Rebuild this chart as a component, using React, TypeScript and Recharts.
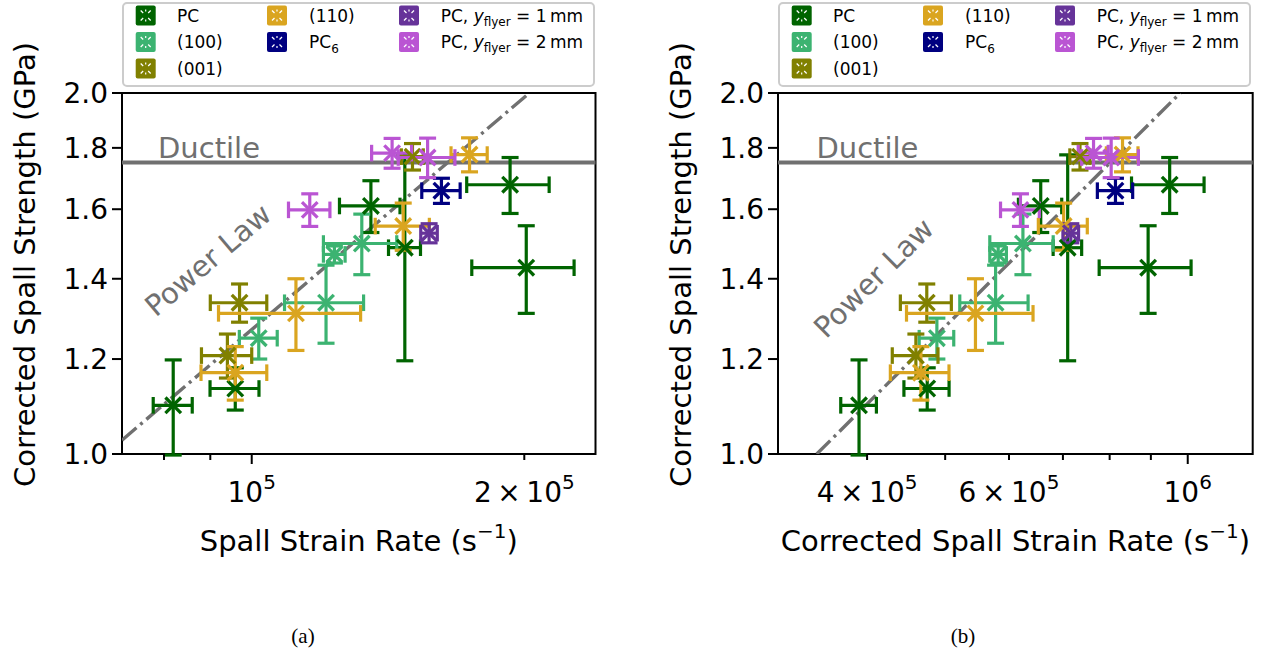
import React from 'react';
import { ScatterChart, Scatter, XAxis, YAxis, ErrorBar, ReferenceLine, ReferenceArea, ReferenceDot } from 'recharts';

const FONT = "'DejaVu Sans', sans-serif";
const GRAY = '#707070';

// ---------- series meta ----------
const seriesNames = ['PC', '(100)', '(001)', '(110)', 'PC_6', 'PC, y_flyer = 1\u2009mm', 'PC, y_flyer = 2\u2009mm'];
const seriesColors = ['#006400', '#3cb371', '#808000', '#daa520', '#000080', '#663399', '#ba55d3'];

// ---------- PC ----------
const pcStrength = [1.098, 1.134, 1.61, 1.486, 1.677, 1.43];
const pcStrengthErr = [0.1, 0.046, 0.08, 0.29, 0.09, 0.12];
const pcRate = [81900, 95900, 135400, 147600, 192900, 201000];
const pcRateErr = [4060, 5960, 10400, 6000, 20150, 26000];
const pcCorrRate = [390900, 475000, 657000, 709600, 949700, 893000];
const pcCorrRateErr = [19900, 30600, 40600, 28900, 98100, 116600];

// ---------- (100) ----------
const s100Strength = [1.249, 1.337, 1.467, 1.498];
const s100StrengthErr = [0.049, 0.1, 0.024, 0.087];
const s100Rate = [101800, 120800, 123400, 132300];
const s100RateErr = [4900, 12100, 3400, 12300];
const s100CorrRate = [488300, 577500, 581800, 624400];
const s100CorrRateErr = [24100, 56200, 13800, 56400];

// ---------- (001) ----------
const s001Strength = [1.337, 1.208, 1.77];
const s001StrengthErr = [0.049, 0.051, 0.045];
const s001Rate = [96950, 94000, 150500];
const s001RateErr = [6950, 6000, 4200];
const s001CorrRate = [474400, 459850, 735000];
const s001CorrRateErr = [34500, 30000, 21000];

// ---------- (110) ----------
const s110Strength = [1.169, 1.31, 1.549, 1.777];
const s110StrengthErr = [0.06, 0.09, 0.07, 0.058];
const s110Rate = [95900, 111900, 147000, 174000];
const s110RateErr = [8000, 20000, 10100, 8000];
const s110CorrRate = [466500, 545200, 701500, 830000];
const s110CorrRateErr = [39000, 97500, 49000, 37500];

// ---------- PC6 ----------
const pc6Strength = [1.658];
const pc6StrengthErr = [0.04];
const pc6Rate = [162000];
const pc6RateErr = [7900];
const pc6CorrRate = [813400];
const pc6CorrRateErr = [41000];

// ---------- PC, y_flyer = 1 mm ----------
const fly1Strength = [1.528];
const fly1StrengthErr = [0.028];
const fly1Rate = [157000];
const fly1RateErr = [3300];
const fly1CorrRate = [716000];
const fly1CorrRateErr = [16000];

// ---------- PC, y_flyer = 2 mm ----------
const fly2Strength = [1.598, 1.782, 1.767];
const fly2StrengthErr = [0.05, 0.051, 0.067];
const fly2Rate = [115900, 142900, 156400];
const fly2RateErr = [6100, 7250, 11250];
const fly2CorrRate = [620000, 764000, 803500];
const fly2CorrRateErr = [34300, 32700, 65000];

// ---------- reference lines ----------
const ductileStrength = 1.75;
const powerLawA = [{ x: 71900, y: 1.027 }, { x: 202600, y: 2.0 }];
const powerLawB = [{ x: 346400, y: 1.0 }, { x: 979000, y: 2.0 }];

// ---------- axes ----------
const yDomain = [1.0, 2.0];
const yTicks = [1.0, 1.2, 1.4, 1.6, 1.8, 2.0];
const yTickLabels = ['1.0', '1.2', '1.4', '1.6', '1.8', '2.0'];

const xDomainA = [71900, 239700];
const xTicksA = [80000, 90000, 100000, 200000];
const xTickLabelsA = [null, null, ['10', '5'], ['2\u2009\u00d7\u200910', '5']];
const xMajorA = [100000];

const xDomainB = [310100, 1204000];
const xTicksB = [400000, 500000, 600000, 700000, 800000, 900000, 1000000];
const xTickLabelsB = [['4\u2009\u00d7\u200910', '5'], null, ['6\u2009\u00d7\u200910', '5'], null, null, null, ['10', '6']];
const xMajorB = [1000000];

const build = (xs: number[], xe: number[], ys: number[], ye: number[]) =>
  ys.map((y, i) => ({ x: xs[i], y, ex: xe[i], ey: ye[i] }));

const SERIES = [
  { a: build(pcRate, pcRateErr, pcStrength, pcStrengthErr), b: build(pcCorrRate, pcCorrRateErr, pcStrength, pcStrengthErr) },
  { a: build(s100Rate, s100RateErr, s100Strength, s100StrengthErr), b: build(s100CorrRate, s100CorrRateErr, s100Strength, s100StrengthErr) },
  { a: build(s001Rate, s001RateErr, s001Strength, s001StrengthErr), b: build(s001CorrRate, s001CorrRateErr, s001Strength, s001StrengthErr) },
  { a: build(s110Rate, s110RateErr, s110Strength, s110StrengthErr), b: build(s110CorrRate, s110CorrRateErr, s110Strength, s110StrengthErr) },
  { a: build(pc6Rate, pc6RateErr, pc6Strength, pc6StrengthErr), b: build(pc6CorrRate, pc6CorrRateErr, pc6Strength, pc6StrengthErr) },
  { a: build(fly1Rate, fly1RateErr, fly1Strength, fly1StrengthErr), b: build(fly1CorrRate, fly1CorrRateErr, fly1Strength, fly1StrengthErr) },
  { a: build(fly2Rate, fly2RateErr, fly2Strength, fly2StrengthErr), b: build(fly2CorrRate, fly2CorrRateErr, fly2Strength, fly2StrengthErr) },
].map((s, i) => ({ ...s, name: seriesNames[i], color: seriesColors[i] }));

const PANELS = {
  a: {
    left: 0,
    rightMargin: 24.5,
    xDomain: xDomainA,
    xTicks: xTicksA,
    xTickLabels: xTickLabelsA,
    xMajor: xMajorA,
    xLabel: 'Spall Strain Rate (s',
    powerLaw: powerLawA,
    ductileText: { x: 78800, y: 1.766 },
    powerText: { x: 89500, y: 1.451, angle: -40.4 },
    caption: '(a)',
  },
  b: {
    left: 656,
    rightMargin: 23.3,
    xDomain: xDomainB,
    xTicks: xTicksB,
    xTickLabels: xTickLabelsB,
    xMajor: xMajorB,
    xLabel: 'Corrected Spall Strain Rate (s',
    powerLaw: powerLawB,
    ductileText: { x: 346100, y: 1.766 },
    powerText: { x: 407700, y: 1.402, angle: -44.8 },
    caption: '(b)',
  },
};

const near = (a: number, b: number) => Math.abs(a - b) / Math.abs(b) < 1e-6;

const XMarker = (props: any) => {
  const { cx, cy, color } = props;
  if (cx == null || cy == null) return null;
  const s = 7.8;
  return (
    <g>
      <line x1={cx - s} y1={cy - s} x2={cx + s} y2={cy + s} stroke={color} strokeWidth={3.3} />
      <line x1={cx - s} y1={cy + s} x2={cx + s} y2={cy - s} stroke={color} strokeWidth={3.3} />
    </g>
  );
};

function SpallPanel({ id }: { id: 'a' | 'b' }) {
  const p = PANELS[id];
  const renderXTick = (props: any) => {
    const { x, y, payload } = props;
    const idx = p.xTicks.findIndex((t) => near(t, payload.value));
    const lab = idx >= 0 ? p.xTickLabels[idx] : null;
    const major = p.xMajor.some((t) => near(t, payload.value));
    const len = major ? 10 : 6;
    return (
      <g>
        <line x1={x} x2={x} y1={y} y2={y + len} stroke="#000" strokeWidth={2} />
        {lab && (
          <text x={x} y={y + 48} textAnchor="middle" fontSize={28} fontFamily={FONT} fill="#000">
            {lab[0]}
            <tspan dy={-13} fontSize={20}>{lab[1]}</tspan>
          </text>
        )}
      </g>
    );
  };
  const renderYTick = (props: any) => {
    const { x, y, payload } = props;
    const idx = yTicks.findIndex((t) => near(t, payload.value));
    return (
      <g>
        <line x1={x - 10} x2={x} y1={y} y2={y} stroke="#000" strokeWidth={2} />
        <text x={x - 14} y={y + 10} textAnchor="end" fontSize={28} fontFamily={FONT} fill="#000">
          {idx >= 0 ? yTickLabels[idx] : ''}
        </text>
      </g>
    );
  };
  const renderXLabel = (props: any) => {
    const vb = props.viewBox || {};
    const cx = vb.x + vb.width / 2;
    const cy = vb.y + 97;
    return (
      <text x={cx} y={cy} textAnchor="middle" fontSize={29} fontFamily={FONT} fill="#000">
        {p.xLabel}
        <tspan dy={-13} fontSize={20}>{'\u22121'}</tspan>
        <tspan dy={13} fontSize={29}>)</tspan>
      </text>
    );
  };
  const renderYLabel = (props: any) => {
    const vb = props.viewBox || {};
    const cx = vb.x + 35;
    const cy = vb.y + vb.height / 2 - 9;
    return (
      <text x={cx} y={cy} transform={`rotate(-90 ${cx} ${cy})`} textAnchor="middle" fontSize={29} fontFamily={FONT} fill="#000">
        Corrected Spall Strength (GPa)
      </text>
    );
  };
  return (
    <div style={{ position: 'absolute', left: p.left, top: 0 }}>
      <ScatterChart width={620} height={600} margin={{ top: 93, right: p.rightMargin, bottom: 0, left: 0 }}>
        <XAxis
          type="number"
          dataKey="x"
          scale="log"
          domain={p.xDomain}
          allowDataOverflow
          ticks={p.xTicks}
          interval={0}
          tickLine={false}
          axisLine={false}
          tickSize={0}
          tickMargin={0}
          height={146}
          tick={renderXTick}
          label={renderXLabel}
        />
        <YAxis
          type="number"
          dataKey="y"
          scale="log"
          domain={yDomain}
          allowDataOverflow
          ticks={yTicks}
          interval={0}
          tickLine={false}
          axisLine={false}
          tickSize={0}
          tickMargin={0}
          width={122}
          tick={renderYTick}
          label={renderYLabel}
        />
        <ReferenceLine y={ductileStrength} stroke={GRAY} strokeWidth={4} />
        <ReferenceLine
          segment={p.powerLaw}
          stroke={GRAY}
          strokeWidth={3.4}
          strokeDasharray="19 5 3 5"
          ifOverflow="hidden"
        />
        {SERIES.map((s) => (
          <Scatter
            key={s.name}
            name={s.name}
            data={s[id]}
            isAnimationActive={false}
            shape={(props: any) => <XMarker {...props} color={s.color} />}
          >
            <ErrorBar dataKey="ex" direction="x" width={8.3} stroke={s.color} strokeWidth={3.2} isAnimationActive={false} />
            <ErrorBar dataKey="ey" direction="y" width={8.5} stroke={s.color} strokeWidth={3.2} isAnimationActive={false} />
          </Scatter>
        ))}
        <ReferenceDot
          x={p.ductileText.x}
          y={p.ductileText.y}
          r={0}
          ifOverflow="visible"
          shape={(props: any) => (
            <text x={props.cx} y={props.cy} fontSize={29} fontFamily={FONT} fill={GRAY}>
              Ductile
            </text>
          )}
        />
        <ReferenceDot
          x={p.powerText.x}
          y={p.powerText.y}
          r={0}
          ifOverflow="visible"
          shape={(props: any) => (
            <text
              x={props.cx}
              y={props.cy}
              transform={`rotate(${p.powerText.angle} ${props.cx} ${props.cy})`}
              textAnchor="middle"
              dominantBaseline="central"
              fontSize={29}
              fontFamily={FONT}
              fill={GRAY}
            >
              Power Law
            </text>
          )}
        />
        <ReferenceArea
          x1={p.xDomain[0]}
          x2={p.xDomain[1]}
          y1={yDomain[0]}
          y2={yDomain[1]}
          fill="none"
          fillOpacity={0}
          stroke="#000"
          strokeWidth={2}
          ifOverflow="visible"
        />
      </ScatterChart>
    </div>
  );
}

const renderLegendName = (name: string) => {
  if (name === 'PC_6') {
    return (
      <>
        PC<tspan dy={5} fontSize={12}>6</tspan>
      </>
    );
  }
  if (name.startsWith('PC, y_flyer')) {
    const val = name.split('= ')[1];
    return (
      <>
        PC, <tspan fontStyle="italic">y</tspan>
        <tspan dy={4} fontSize={12}>flyer</tspan>
        <tspan dy={-4}>{' = ' + val}</tspan>
      </>
    );
  }
  return name;
};

function LegendBox({ left }: { left: number }) {
  const rowsPerCol = 3;
  const colCounts = [3, 2, 2];
  const colMarkerX = [13.7, 145, 277];
  const colTextX = [55, 187, 318.7];
  const rowY = [13.5, 40, 66.5];
  const items: { col: number; row: number; i: number }[] = [];
  let i = 0;
  colCounts.forEach((n, c) => {
    for (let r = 0; r < n && r < rowsPerCol; r++) {
      items.push({ col: c, row: r, i });
      i++;
    }
  });
  return (
    <svg style={{ position: 'absolute', left, top: 2 }} width={474} height={86}>
      <rect x={1} y={1} width={471} height={83} rx={4} fill="#fff" fillOpacity={0.8} stroke="#cccccc" strokeWidth={2} />
      {items.map(({ col, row, i }) => {
        const mx = colMarkerX[col];
        const my = rowY[row];
        const c = seriesColors[i];
        return (
          <g key={i}>
            <rect x={mx} y={my - 10} width={20} height={20} rx={2} fill={c} />
            <line x1={mx + 5} y1={my - 5} x2={mx + 7.5} y2={my - 2.5} stroke="#fff" strokeWidth={1.2} />
            <line x1={mx + 15} y1={my - 5} x2={mx + 12.5} y2={my - 2.5} stroke="#fff" strokeWidth={1.2} />
            <line x1={mx + 5} y1={my + 5} x2={mx + 7.5} y2={my + 2.5} stroke="#fff" strokeWidth={1.2} />
            <line x1={mx + 15} y1={my + 5} x2={mx + 12.5} y2={my + 2.5} stroke="#fff" strokeWidth={1.2} />
            <line x1={mx + 10} y1={my - 6} x2={mx + 10} y2={my - 4} stroke="#fff" strokeWidth={1.2} />
            <line x1={mx + 10} y1={my + 6} x2={mx + 10} y2={my + 4} stroke="#fff" strokeWidth={1.2} />
            <text x={colTextX[col]} y={my + 6} fontSize={17} fontFamily={FONT} fill="#000">
              {renderLegendName(seriesNames[i])}
            </text>
          </g>
        );
      })}
    </svg>
  );
}

export default function App() {
  return (
    <div style={{ position: 'absolute', left: 0, top: 0, width: 1276, height: 653, background: '#fff', overflow: 'hidden' }}>
      <SpallPanel id="a" />
      <SpallPanel id="b" />
      <LegendBox left={122} />
      <LegendBox left={778} />
      <svg style={{ position: 'absolute', left: 0, top: 600 }} width={1276} height={53}>
        <text x={303} y={43} textAnchor="middle" fontSize={21} fontFamily="'Liberation Serif', serif" fill="#000">
          {PANELS.a.caption}
        </text>
        <text x={963} y={43} textAnchor="middle" fontSize={21} fontFamily="'Liberation Serif', serif" fill="#000">
          {PANELS.b.caption}
        </text>
      </svg>
    </div>
  );
}
